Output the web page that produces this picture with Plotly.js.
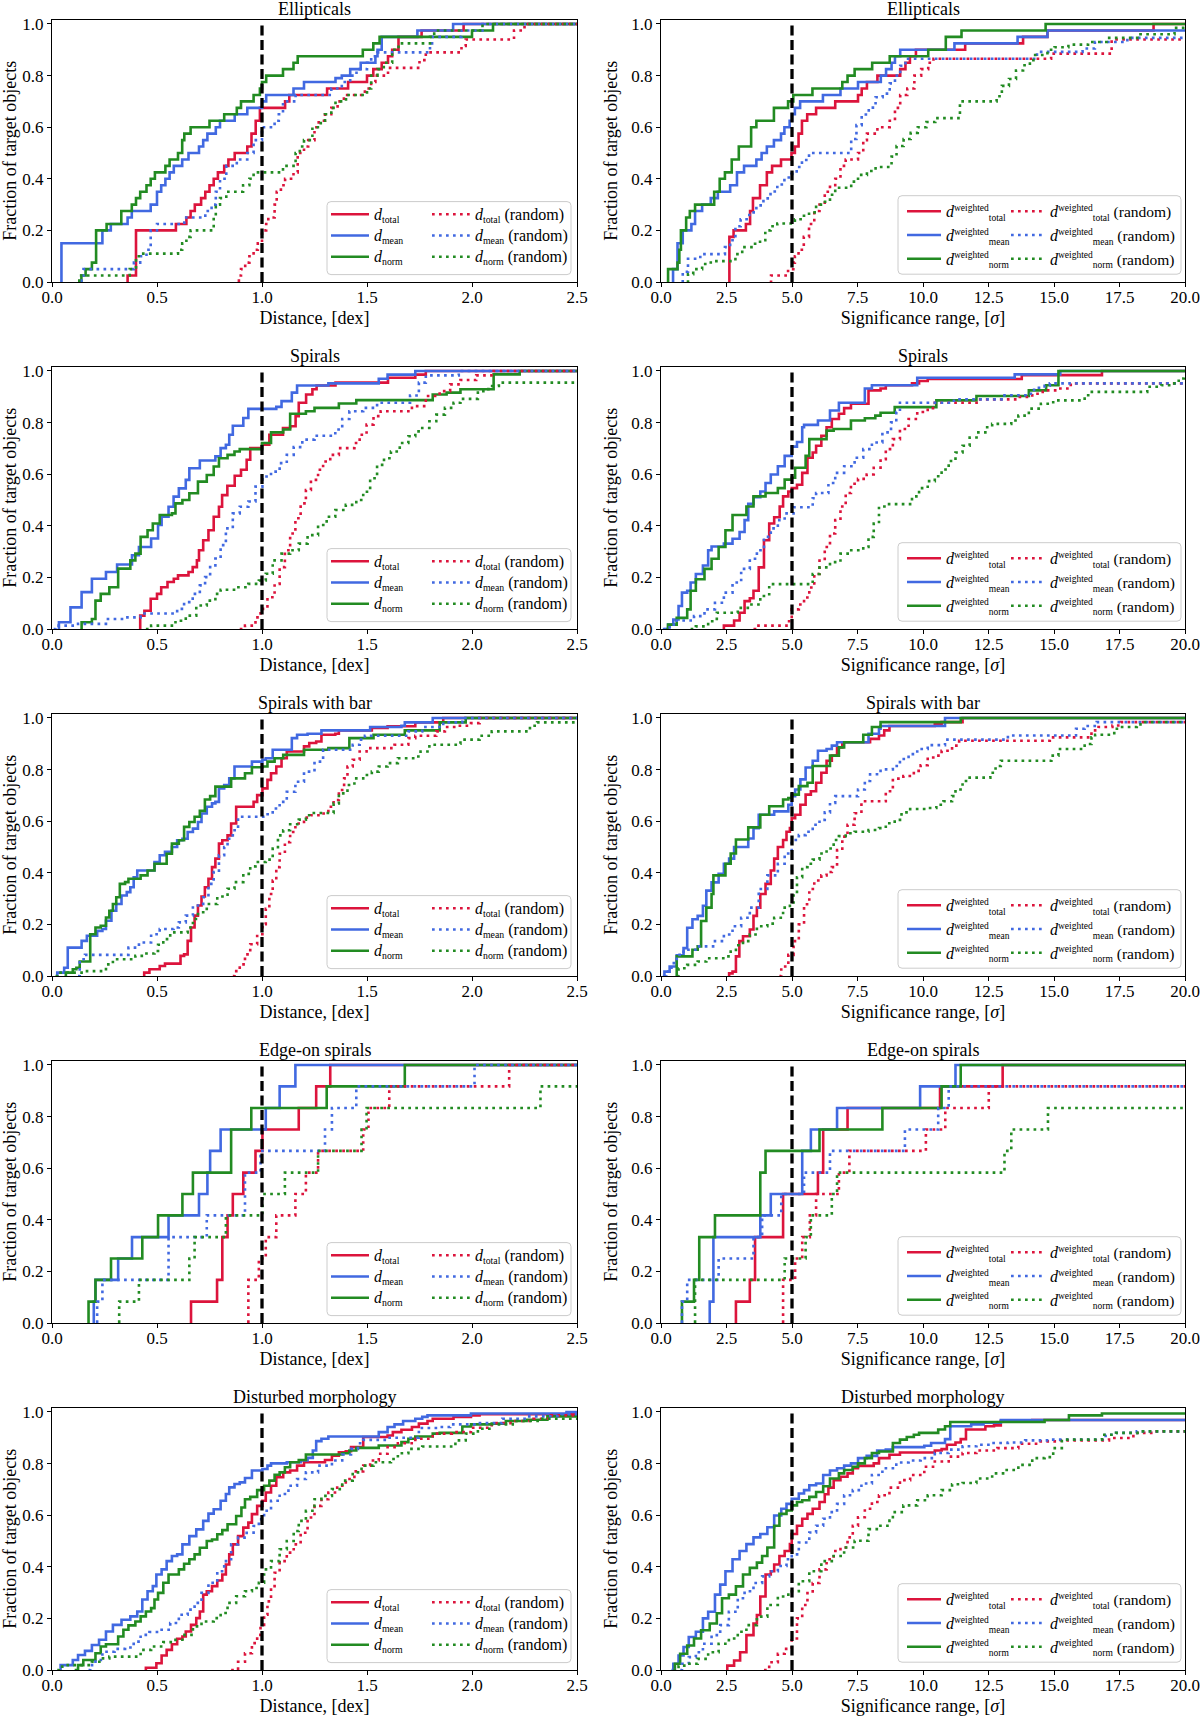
<!DOCTYPE html>
<html>
<head>
<meta charset="utf-8">
<script src="https://cdn.plot.ly/plotly-3.0.1.min.js"></script>
<style>html,body{margin:0;padding:0;background:#fff;}#chart{width:1200px;height:1716px;}</style>
</head>
<body>
<div id="chart"></div>
<script>
// ---------------- data ----------------
const categories = ["Ellipticals", "Spirals", "Spirals with bar", "Edge-on spirals", "Disturbed morphology"];
const seriesKeys = ["total", "mean", "norm"];
const xTitles = ["Distance, [dex]", "Significance range, [<i>σ</i>]"];
const yTitle = "Fraction of target objects";
const xRanges = [[0, 2.5], [0, 20]];
const xTickSteps = [0.5, 2.5];
const thresholds = [1.0, 5.0];

// Ellipticals - distance
const ell_dist_total = [[0.36,0],[0.36,0.025],[0.40,0.2],[0.59,0.225],[0.64,0.25],[0.66,0.275],[0.68,0.3],[0.71,0.325],[0.73,0.35],[0.75,0.375],[0.77,0.4],[0.79,0.425],[0.82,0.45],[0.84,0.475],[0.87,0.5],[0.93,0.525],[0.95,0.575],[0.97,0.625],[0.99,0.675],[1.11,0.7],[1.13,0.725],[1.31,0.75],[1.41,0.775],[1.5,0.8],[1.53,0.825],[1.57,0.85],[1.6,0.875],[1.62,0.9],[1.65,0.95],[1.76,0.975],[1.96,1.0]];
const ell_dist_mean = [[0.04,0],[0.045,0.15],[0.24,0.2],[0.28,0.225],[0.36,0.25],[0.38,0.275],[0.47,0.3],[0.5,0.35],[0.52,0.375],[0.54,0.4],[0.56,0.425],[0.58,0.45],[0.62,0.475],[0.65,0.5],[0.7,0.525],[0.72,0.55],[0.74,0.575],[0.78,0.6],[0.8,0.625],[0.87,0.65],[0.93,0.675],[1.0,0.7],[1.02,0.725],[1.15,0.75],[1.2,0.775],[1.35,0.79],[1.38,0.8],[1.42,0.825],[1.47,0.85],[1.54,0.875],[1.55,0.9],[1.57,0.95],[1.74,0.975],[1.91,1.0]];
const ell_dist_norm = [[0.14,0],[0.14,0.025],[0.16,0.05],[0.19,0.075],[0.21,0.2],[0.26,0.225],[0.33,0.275],[0.38,0.3],[0.4,0.325],[0.42,0.35],[0.45,0.375],[0.47,0.4],[0.49,0.425],[0.54,0.45],[0.56,0.475],[0.6,0.5],[0.62,0.55],[0.63,0.575],[0.66,0.6],[0.75,0.625],[0.82,0.65],[0.88,0.675],[0.9,0.7],[0.96,0.725],[0.99,0.75],[1.0,0.775],[1.02,0.8],[1.1,0.825],[1.15,0.85],[1.17,0.875],[1.48,0.9],[1.53,0.925],[1.56,0.95],[2.0,0.975],[2.1,1.0]];
const ell_dist_total_rnd = [[0.89,0],[0.89,0.025],[0.9,0.05],[0.92,0.075],[0.94,0.1],[0.96,0.125],[0.98,0.15],[1.0,0.2],[1.02,0.225],[1.03,0.25],[1.06,0.3],[1.07,0.35],[1.09,0.375],[1.11,0.4],[1.15,0.425],[1.17,0.5],[1.2,0.525],[1.22,0.55],[1.25,0.6],[1.27,0.625],[1.3,0.65],[1.33,0.675],[1.36,0.7],[1.39,0.725],[1.49,0.75],[1.52,0.775],[1.54,0.8],[1.6,0.83],[1.75,0.86],[1.78,0.89],[1.95,0.915],[1.97,0.94],[2.2,0.975],[2.25,1.0]];
const ell_dist_mean_rnd = [[0.14,0],[0.14,0.025],[0.15,0.05],[0.39,0.075],[0.42,0.1],[0.45,0.125],[0.47,0.2],[0.5,0.225],[0.63,0.25],[0.73,0.275],[0.76,0.3],[0.78,0.35],[0.8,0.4],[0.83,0.45],[0.88,0.475],[0.93,0.5],[0.96,0.55],[1.0,0.6],[1.06,0.625],[1.08,0.65],[1.1,0.7],[1.16,0.725],[1.33,0.75],[1.38,0.775],[1.42,0.8],[1.45,0.825],[1.5,0.85],[1.52,0.875],[1.55,0.89],[1.8,0.925],[1.81,0.95],[1.95,0.975],[2.05,1.0]];
const ell_dist_norm_rnd = [[0.13,0],[0.13,0.025],[0.37,0.05],[0.4,0.1],[0.42,0.11],[0.6,0.125],[0.62,0.15],[0.64,0.175],[0.66,0.2],[0.77,0.25],[0.78,0.3],[0.8,0.325],[0.83,0.35],[0.91,0.375],[0.94,0.4],[0.96,0.425],[1.1,0.45],[1.16,0.5],[1.18,0.525],[1.2,0.55],[1.24,0.6],[1.28,0.625],[1.3,0.65],[1.33,0.675],[1.35,0.7],[1.4,0.725],[1.5,0.75],[1.52,0.8],[1.55,0.825],[1.58,0.85],[1.62,0.9],[1.65,0.925],[1.8,0.95],[1.82,0.975],[2.05,1.0]];

// Ellipticals - significance
const ell_sig_total = [[2.61,0],[2.61,0.175],[2.77,0.2],[3.24,0.225],[3.4,0.275],[3.51,0.325],[3.78,0.375],[4.04,0.425],[4.24,0.45],[4.58,0.475],[4.98,0.5],[5.11,0.525],[5.25,0.575],[5.38,0.625],[5.58,0.65],[5.92,0.675],[6.65,0.7],[7.52,0.725],[7.66,0.75],[7.86,0.775],[8.26,0.8],[9.13,0.825],[9.33,0.85],[9.5,0.875],[9.73,0.9],[11.61,0.925],[13.82,0.95],[14.75,0.975],[18.8,1.0]];
const ell_sig_mean = [[0.43,0],[0.46,0.05],[0.63,0.15],[0.83,0.2],[1.16,0.225],[1.3,0.275],[1.57,0.3],[1.9,0.325],[2.17,0.35],[2.64,0.375],[2.9,0.425],[3.17,0.45],[3.64,0.475],[3.84,0.5],[4.04,0.525],[4.31,0.55],[4.58,0.575],[4.71,0.6],[4.91,0.625],[5.0,0.65],[5.11,0.675],[5.31,0.7],[6.18,0.725],[6.85,0.75],[7.52,0.775],[8.39,0.8],[8.59,0.825],[8.8,0.85],[8.93,0.875],[9.13,0.9],[11.2,0.925],[13.61,0.95],[14.75,0.975]];
const ell_sig_norm = [[0.27,0],[0.27,0.05],[0.63,0.075],[0.7,0.125],[0.76,0.2],[0.96,0.25],[1.1,0.275],[1.3,0.3],[2.03,0.35],[2.24,0.4],[2.44,0.425],[2.7,0.475],[2.97,0.525],[3.44,0.6],[3.64,0.625],[4.31,0.675],[4.85,0.7],[5.05,0.725],[5.78,0.75],[6.92,0.775],[7.12,0.8],[7.39,0.825],[8.06,0.85],[8.73,0.875],[10.2,0.9],[10.87,0.95],[11.47,0.975],[14.68,1.0]];
const ell_sig_total_rnd = [[4.15,0],[4.2,0.025],[4.85,0.05],[5.05,0.075],[5.11,0.1],[5.25,0.125],[5.45,0.175],[5.65,0.225],[5.85,0.275],[6.05,0.3],[6.25,0.35],[6.45,0.375],[6.65,0.4],[6.85,0.45],[7.05,0.475],[7.52,0.5],[7.72,0.55],[7.86,0.575],[8.26,0.6],[8.73,0.625],[8.93,0.675],[9.13,0.725],[9.4,0.75],[9.67,0.8],[9.93,0.825],[10.2,0.85],[10.4,0.865],[14.89,0.885],[17.2,0.94]];
const ell_sig_mean_rnd = [[0.8,0],[0.83,0.04],[1.03,0.09],[1.5,0.108],[2.44,0.135],[2.64,0.162],[2.84,0.216],[3.04,0.243],[3.37,0.27],[3.64,0.297],[3.91,0.324],[4.18,0.351],[4.44,0.378],[4.71,0.405],[4.98,0.419],[5.18,0.446],[5.38,0.473],[5.65,0.5],[7.26,0.554],[7.46,0.608],[7.66,0.649],[7.93,0.676],[8.19,0.716],[8.46,0.73],[8.73,0.77],[8.93,0.8],[9.13,0.838],[9.33,0.865],[14.35,0.892],[16.09,0.905],[16.56,0.93],[17.8,0.946]];
const ell_sig_norm_rnd = [[0.99,0],[1.03,0.03],[1.23,0.05],[1.57,0.07],[1.9,0.081],[2.84,0.108],[3.1,0.135],[3.51,0.148],[3.78,0.162],[3.98,0.2],[4.18,0.216],[4.44,0.227],[5.11,0.243],[5.38,0.257],[5.65,0.27],[5.92,0.3],[6.18,0.311],[6.45,0.338],[6.65,0.365],[7.26,0.389],[7.52,0.415],[7.86,0.43],[8.19,0.446],[8.8,0.486],[8.99,0.527],[9.26,0.554],[9.53,0.578],[9.8,0.6],[10.13,0.62],[10.47,0.635],[11.41,0.7],[12.81,0.72],[13.01,0.76],[13.28,0.787],[13.55,0.82],[13.82,0.84],[14.08,0.86],[14.28,0.88],[14.75,0.9],[15.02,0.91],[15.55,0.92],[16.3,0.93],[17.0,0.946],[18.3,0.96],[19.6,0.985]];

// Spirals - distance
const spi_dist_total = [[0.42,0],[0.42,0.052],[0.44,0.071],[0.47,0.117],[0.5,0.136],[0.52,0.162],[0.55,0.182],[0.58,0.195],[0.6,0.208],[0.65,0.221],[0.67,0.24],[0.69,0.266],[0.7,0.305],[0.72,0.344],[0.745,0.383],[0.77,0.435],[0.795,0.474],[0.81,0.519],[0.835,0.555],[0.87,0.594],[0.9,0.617],[0.927,0.656],[0.944,0.701],[1.0,0.714],[1.035,0.753],[1.1,0.779],[1.134,0.786],[1.16,0.825],[1.175,0.877],[1.21,0.909],[1.24,0.929],[1.26,0.944],[1.35,0.955],[1.6,0.974],[1.73,0.986],[1.78,1.0]];
const spi_dist_mean = [[0.033,0],[0.033,0.026],[0.088,0.084],[0.141,0.143],[0.19,0.195],[0.257,0.221],[0.31,0.25],[0.381,0.286],[0.414,0.318],[0.472,0.351],[0.505,0.403],[0.522,0.435],[0.555,0.474],[0.579,0.513],[0.604,0.545],[0.637,0.578],[0.654,0.623],[0.704,0.653],[0.778,0.669],[0.803,0.701],[0.828,0.714],[0.844,0.753],[0.861,0.788],[0.911,0.818],[0.935,0.853],[1.068,0.861],[1.093,0.883],[1.142,0.916],[1.167,0.944],[1.316,0.952],[1.556,0.97],[1.598,0.986],[1.73,1.0]];
const spi_dist_norm = [[0.141,0],[0.141,0.026],[0.19,0.039],[0.207,0.11],[0.232,0.136],[0.273,0.162],[0.315,0.234],[0.373,0.266],[0.397,0.292],[0.422,0.357],[0.455,0.383],[0.48,0.409],[0.513,0.442],[0.571,0.448],[0.588,0.487],[0.621,0.5],[0.654,0.526],[0.695,0.571],[0.737,0.597],[0.77,0.63],[0.795,0.662],[0.836,0.675],[0.869,0.688],[0.894,0.697],[1.0,0.721],[1.043,0.762],[1.101,0.773],[1.134,0.834],[1.209,0.844],[1.25,0.857],[1.366,0.874],[1.449,0.887],[1.813,0.909],[1.879,0.916],[1.945,0.929],[2.103,0.987],[2.227,1.0]];
const spi_dist_total_rnd = [[0.894,0],[0.919,0.013],[0.969,0.045],[0.993,0.078],[1.026,0.123],[1.06,0.175],[1.084,0.24],[1.109,0.305],[1.134,0.37],[1.159,0.429],[1.184,0.487],[1.209,0.539],[1.233,0.578],[1.267,0.617],[1.291,0.649],[1.325,0.675],[1.366,0.701],[1.44,0.721],[1.465,0.753],[1.498,0.792],[1.531,0.825],[1.565,0.844],[1.714,0.864],[1.78,0.903],[1.846,0.922],[1.896,0.948],[1.945,0.965],[2.02,0.983],[2.103,1.0]];
const spi_dist_mean_rnd = [[0.008,0],[0.017,0.013],[0.124,0.02],[0.257,0.039],[0.34,0.045],[0.422,0.06],[0.596,0.078],[0.629,0.104],[0.67,0.136],[0.704,0.169],[0.729,0.201],[0.753,0.24],[0.778,0.273],[0.803,0.325],[0.828,0.39],[0.861,0.448],[0.894,0.474],[0.935,0.494],[0.969,0.552],[1.002,0.591],[1.043,0.61],[1.084,0.643],[1.118,0.675],[1.151,0.705],[1.192,0.734],[1.25,0.749],[1.349,0.773],[1.382,0.814],[1.416,0.844],[1.482,0.857],[1.548,0.877],[1.705,0.905],[1.747,0.955],[1.78,0.983],[1.937,1.0]];
const spi_dist_norm_rnd = [[0.447,0],[0.472,0.013],[0.588,0.032],[0.637,0.052],[0.687,0.091],[0.737,0.11],[0.778,0.136],[0.803,0.152],[0.877,0.162],[0.935,0.175],[0.985,0.188],[1.018,0.214],[1.051,0.266],[1.093,0.292],[1.134,0.305],[1.175,0.331],[1.217,0.364],[1.267,0.403],[1.308,0.435],[1.349,0.461],[1.399,0.481],[1.449,0.5],[1.482,0.532],[1.515,0.584],[1.548,0.636],[1.581,0.662],[1.614,0.688],[1.656,0.721],[1.697,0.747],[1.73,0.766],[1.763,0.779],[1.797,0.805],[1.83,0.831],[1.871,0.857],[1.912,0.877],[1.945,0.892],[2.028,0.922],[2.078,0.942],[2.128,0.955]];

// Spirals - significance
const spi_sig_total = [[2.4,0],[2.4,0.013],[2.79,0.033],[3.0,0.063],[3.19,0.108],[3.39,0.119],[3.53,0.148],[3.73,0.239],[3.93,0.344],[4.13,0.409],[4.32,0.433],[4.53,0.475],[4.66,0.514],[4.86,0.533],[4.99,0.546],[5.19,0.559],[5.39,0.605],[5.59,0.664],[5.79,0.684],[5.92,0.71],[6.12,0.749],[6.32,0.782],[6.52,0.814],[6.79,0.834],[6.99,0.856],[7.25,0.873],[7.92,0.925],[8.38,0.932],[8.58,0.945],[9.58,0.952],[9.85,0.961],[10.18,0.969],[13.77,0.984],[16.83,1.0]];
const spi_sig_mean = [[0.13,0],[0.27,0.017],[0.47,0.037],[0.67,0.089],[0.8,0.141],[1.0,0.148],[1.13,0.18],[1.33,0.213],[1.6,0.246],[1.8,0.305],[1.93,0.32],[2.4,0.331],[2.73,0.35],[3.0,0.376],[3.19,0.422],[3.33,0.485],[3.53,0.511],[3.79,0.533],[3.99,0.566],[4.19,0.599],[4.46,0.631],[4.72,0.671],[4.99,0.707],[5.19,0.725],[5.39,0.782],[5.46,0.791],[5.99,0.808],[6.45,0.847],[6.79,0.877],[7.78,0.932],[8.05,0.945],[9.78,0.974],[13.5,0.987],[15.24,1.0]];
const spi_sig_norm = [[0.2,0],[0.27,0.017],[0.6,0.043],[1.0,0.076],[1.13,0.148],[1.33,0.193],[1.66,0.233],[1.93,0.272],[2.2,0.318],[2.46,0.383],[2.73,0.442],[3.26,0.475],[3.53,0.514],[3.99,0.527],[4.46,0.546],[4.72,0.579],[4.99,0.586],[5.12,0.625],[5.52,0.671],[5.66,0.736],[6.32,0.769],[6.59,0.775],[7.25,0.808],[7.78,0.817],[8.18,0.827],[8.38,0.838],[8.92,0.86],[10.51,0.886],[12.04,0.903],[14.04,0.925],[14.7,0.945],[15.17,1.0]];
const spi_sig_total_rnd = [[3.53,0],[3.59,0.013],[4.79,0.03],[4.99,0.076],[5.26,0.095],[5.46,0.122],[5.66,0.161],[5.85,0.213],[6.05,0.265],[6.25,0.318],[6.45,0.37],[6.65,0.422],[6.85,0.475],[7.05,0.527],[7.25,0.563],[7.52,0.582],[7.85,0.599],[8.12,0.625],[8.38,0.658],[8.58,0.697],[8.85,0.736],[9.12,0.775],[9.45,0.814],[9.78,0.841],[10.18,0.856],[10.45,0.877],[12.18,0.89],[13.64,0.899],[14.17,0.912],[14.57,0.925],[15.24,0.932],[15.64,0.952]];
const spi_sig_mean_rnd = [[0.07,0],[0.33,0.017],[0.6,0.033],[1.26,0.05],[1.66,0.076],[2.06,0.102],[2.4,0.141],[2.73,0.18],[3.06,0.233],[3.39,0.272],[3.66,0.305],[3.93,0.357],[4.19,0.39],[4.46,0.422],[4.72,0.448],[5.06,0.472],[5.79,0.507],[5.92,0.527],[6.39,0.566],[6.65,0.605],[6.99,0.631],[7.39,0.664],[7.72,0.697],[8.05,0.723],[8.45,0.762],[8.78,0.801],[8.98,0.841],[9.12,0.877],[11.18,0.89],[13.11,0.906],[14.04,0.912],[14.24,0.935],[14.64,0.943],[14.84,0.952]];
const spi_sig_norm_rnd = [[1.13,0],[1.33,0.01],[1.8,0.03],[2.13,0.063],[2.93,0.082],[3.39,0.095],[3.79,0.128],[4.13,0.174],[5.79,0.213],[6.05,0.239],[6.45,0.259],[6.85,0.292],[7.19,0.305],[7.72,0.318],[7.92,0.357],[8.12,0.409],[8.32,0.475],[8.65,0.484],[9.58,0.514],[9.85,0.546],[10.18,0.573],[10.45,0.592],[10.71,0.618],[10.98,0.651],[11.24,0.684],[11.51,0.71],[11.78,0.742],[12.11,0.762],[12.38,0.782],[12.64,0.795],[13.37,0.808],[13.64,0.827],[14.04,0.854],[14.5,0.873],[14.97,0.886],[16.17,0.906],[16.37,0.919],[18.56,0.939],[19.1,0.945],[19.49,0.952],[19.76,0.971],[19.95,0.985]];

// Spirals with bar - distance
const bar_dist_total = [[0.439,0],[0.439,0.013],[0.464,0.026],[0.513,0.039],[0.538,0.048],[0.612,0.078],[0.629,0.084],[0.646,0.136],[0.662,0.188],[0.679,0.234],[0.695,0.273],[0.712,0.308],[0.728,0.344],[0.745,0.377],[0.762,0.422],[0.778,0.455],[0.795,0.513],[0.811,0.526],[0.836,0.545],[0.853,0.591],[0.877,0.656],[0.96,0.675],[0.977,0.701],[1.002,0.727],[1.026,0.76],[1.043,0.786],[1.068,0.812],[1.093,0.844],[1.118,0.87],[1.2,0.89],[1.225,0.903],[1.258,0.909],[1.283,0.935],[1.349,0.939],[1.366,0.952],[1.523,0.961],[1.598,0.968],[1.73,0.983],[1.863,1.0]];
const bar_dist_mean = [[0.025,0],[0.025,0.013],[0.058,0.032],[0.075,0.11],[0.141,0.136],[0.166,0.156],[0.215,0.175],[0.24,0.182],[0.257,0.214],[0.283,0.253],[0.306,0.279],[0.331,0.312],[0.356,0.325],[0.373,0.344],[0.389,0.383],[0.406,0.409],[0.488,0.442],[0.513,0.468],[0.538,0.481],[0.571,0.5],[0.596,0.526],[0.621,0.532],[0.646,0.558],[0.671,0.571],[0.695,0.597],[0.712,0.63],[0.737,0.656],[0.762,0.669],[0.778,0.675],[0.795,0.727],[0.82,0.74],[0.844,0.766],[0.869,0.812],[0.952,0.831],[1.002,0.838],[1.018,0.844],[1.051,0.877],[1.142,0.922],[1.167,0.935],[1.217,0.939],[1.283,0.952],[1.515,0.965],[1.664,0.97],[1.68,0.983],[1.813,1.0]];
const bar_dist_norm = [[0.066,0],[0.066,0.013],[0.099,0.026],[0.116,0.032],[0.132,0.056],[0.182,0.162],[0.207,0.188],[0.232,0.195],[0.257,0.227],[0.273,0.253],[0.29,0.279],[0.306,0.305],[0.323,0.357],[0.348,0.364],[0.364,0.377],[0.422,0.39],[0.455,0.409],[0.488,0.435],[0.546,0.474],[0.571,0.513],[0.604,0.526],[0.629,0.578],[0.654,0.597],[0.679,0.617],[0.704,0.64],[0.728,0.684],[0.753,0.697],[0.778,0.734],[0.853,0.766],[0.919,0.786],[0.952,0.809],[1.002,0.812],[1.026,0.831],[1.06,0.844],[1.101,0.857],[1.2,0.877],[1.316,0.883],[1.416,0.922],[1.531,0.935],[1.68,0.952],[1.846,0.983],[1.97,1.0]];
const bar_dist_total_rnd = [[0.861,0],[0.869,0.019],[0.894,0.045],[0.919,0.084],[0.944,0.123],[0.977,0.162],[1.002,0.201],[1.018,0.26],[1.035,0.318],[1.051,0.37],[1.068,0.422],[1.084,0.474],[1.109,0.519],[1.134,0.558],[1.159,0.591],[1.2,0.614],[1.233,0.623],[1.283,0.63],[1.316,0.656],[1.341,0.682],[1.366,0.721],[1.391,0.766],[1.407,0.812],[1.432,0.838],[1.465,0.87],[1.498,0.883],[1.631,0.896],[1.697,0.922],[1.73,0.931],[1.83,0.948],[1.871,0.965],[1.929,0.97],[1.995,0.98],[2.036,1.0]];
const bar_dist_mean_rnd = [[0.124,0],[0.132,0.065],[0.157,0.082],[0.364,0.11],[0.414,0.13],[0.472,0.162],[0.513,0.182],[0.579,0.188],[0.604,0.208],[0.637,0.234],[0.671,0.273],[0.72,0.305],[0.745,0.357],[0.77,0.403],[0.795,0.468],[0.82,0.5],[0.836,0.532],[0.861,0.565],[0.886,0.617],[1.018,0.627],[1.051,0.649],[1.084,0.675],[1.118,0.714],[1.159,0.753],[1.2,0.792],[1.25,0.831],[1.291,0.877],[1.432,0.896],[1.465,0.916],[1.49,0.931],[1.697,0.948],[1.763,0.965],[1.863,0.983],[1.954,1.0]];
const bar_dist_norm_rnd = [[0.017,0],[0.025,0.013],[0.141,0.019],[0.257,0.045],[0.29,0.065],[0.397,0.078],[0.439,0.087],[0.488,0.097],[0.505,0.121],[0.53,0.143],[0.563,0.169],[0.646,0.188],[0.671,0.221],[0.695,0.247],[0.737,0.279],[0.787,0.308],[0.836,0.338],[0.869,0.364],[0.911,0.396],[0.944,0.425],[0.969,0.442],[1.018,0.451],[1.051,0.494],[1.076,0.545],[1.101,0.565],[1.134,0.588],[1.175,0.606],[1.209,0.623],[1.233,0.632],[1.341,0.669],[1.366,0.708],[1.407,0.74],[1.44,0.766],[1.482,0.779],[1.523,0.792],[1.556,0.812],[1.598,0.825],[1.647,0.844],[1.73,0.851],[1.755,0.87],[1.797,0.896],[1.929,0.9],[1.945,0.916],[2.036,0.931],[2.094,0.948],[2.276,0.97],[2.31,0.983]];

// Spirals with bar - significance
const bar_sig_total = [[2.6,0],[2.6,0.01],[2.73,0.017],[2.86,0.076],[2.99,0.135],[3.13,0.154],[3.39,0.18],[3.53,0.233],[3.66,0.265],[3.79,0.318],[3.99,0.357],[4.19,0.409],[4.32,0.455],[4.46,0.5],[4.66,0.527],[4.79,0.559],[4.92,0.573],[4.99,0.612],[5.12,0.625],[5.32,0.664],[5.52,0.703],[5.72,0.716],[5.92,0.749],[6.12,0.788],[6.32,0.834],[6.52,0.854],[6.72,0.886],[6.92,0.906],[7.98,0.919],[8.32,0.932],[8.52,0.952],[8.72,0.969],[10.45,0.978],[10.71,0.984],[11.51,1.0]];
const bar_sig_mean = [[0.07,0],[0.13,0.017],[0.33,0.037],[0.6,0.08],[0.86,0.108],[1.0,0.187],[1.2,0.22],[1.4,0.233],[1.6,0.272],[1.73,0.331],[1.93,0.363],[2.2,0.396],[2.4,0.435],[2.6,0.455],[2.79,0.5],[3.33,0.533],[3.53,0.573],[3.73,0.625],[4.32,0.638],[4.86,0.664],[4.99,0.697],[5.12,0.723],[5.32,0.762],[5.52,0.808],[5.79,0.834],[5.99,0.873],[6.32,0.88],[6.52,0.893],[6.72,0.906],[7.92,0.939],[8.32,0.958],[8.38,0.969],[10.84,1.0]];
const bar_sig_norm = [[0.6,0],[0.6,0.076],[1.2,0.102],[1.4,0.115],[1.53,0.213],[1.73,0.265],[1.93,0.318],[2.0,0.39],[2.46,0.435],[2.66,0.475],[2.86,0.529],[3.33,0.576],[3.79,0.625],[4.13,0.658],[4.66,0.684],[4.86,0.69],[4.99,0.703],[5.26,0.736],[5.59,0.749],[5.79,0.814],[6.45,0.854],[6.79,0.886],[6.99,0.906],[7.72,0.935],[8.05,0.965],[8.38,0.984],[11.44,1.0]];
const bar_sig_total_rnd = [[4.52,0],[4.59,0.037],[4.86,0.082],[5.06,0.135],[5.26,0.2],[5.46,0.278],[5.66,0.337],[5.85,0.37],[6.12,0.39],[6.32,0.403],[6.52,0.422],[6.72,0.488],[6.92,0.54],[7.12,0.586],[7.39,0.631],[7.65,0.677],[8.58,0.716],[8.85,0.765],[9.25,0.775],[9.65,0.795],[9.91,0.817],[10.18,0.847],[10.45,0.854],[10.71,0.873],[11.11,0.893],[11.38,0.912],[14.84,0.925],[16.43,0.952],[16.7,0.965],[17.23,0.971],[17.56,0.984]];
const bar_sig_mean_rnd = [[0.13,0],[0.2,0.017],[0.4,0.05],[0.6,0.082],[0.86,0.102],[1.4,0.115],[2.06,0.135],[2.4,0.161],[2.73,0.193],[3.06,0.226],[3.39,0.265],[3.73,0.337],[4.06,0.39],[4.46,0.435],[4.72,0.475],[4.99,0.527],[5.26,0.546],[5.52,0.559],[5.79,0.586],[6.05,0.605],[6.25,0.634],[6.45,0.671],[6.65,0.697],[7.52,0.723],[7.78,0.756],[7.98,0.782],[8.38,0.801],[8.85,0.814],[9.12,0.841],[9.45,0.86],[9.78,0.88],[10.18,0.895],[10.84,0.916],[13.24,0.932],[15.84,0.958],[16.17,0.969],[16.63,0.984]];
const bar_sig_norm_rnd = [[0.6,0],[0.67,0.03],[1.0,0.043],[1.4,0.056],[1.73,0.069],[2.46,0.076],[2.66,0.095],[2.86,0.119],[3.13,0.135],[3.39,0.161],[3.66,0.193],[4.06,0.203],[4.32,0.226],[4.66,0.265],[4.92,0.278],[5.06,0.318],[5.19,0.383],[5.39,0.422],[5.59,0.435],[5.79,0.451],[6.05,0.475],[6.32,0.494],[6.59,0.527],[6.79,0.542],[7.05,0.553],[7.39,0.559],[7.92,0.566],[8.32,0.573],[8.58,0.592],[8.92,0.605],[9.18,0.634],[9.51,0.647],[10.18,0.651],[10.51,0.664],[10.78,0.677],[11.11,0.697],[11.24,0.723],[11.51,0.756],[11.71,0.769],[12.57,0.788],[12.77,0.814],[12.97,0.834],[14.9,0.854],[15.17,0.88],[16.17,0.899],[16.43,0.925],[16.57,0.935],[17.3,0.958],[17.5,0.965],[18.16,0.969],[18.3,0.984]];

// Edge-on spirals - distance
const edge_dist_total = [[0.662,0],[0.662,0.083],[0.786,0.167],[0.811,0.333],[0.836,0.417],[0.861,0.5],[0.911,0.583],[0.969,0.667],[1.002,0.75],[1.175,0.833],[1.258,0.917],[1.325,1.0]];
const edge_dist_mean = [[0.199,0],[0.199,0.083],[0.207,0.167],[0.315,0.25],[0.381,0.333],[0.555,0.417],[0.7,0.5],[0.74,0.583],[0.753,0.667],[0.803,0.75],[1.018,0.833],[1.084,0.917],[1.159,1.0]];
const edge_dist_norm = [[0.174,0],[0.174,0.083],[0.207,0.167],[0.281,0.25],[0.43,0.333],[0.505,0.417],[0.621,0.5],[0.671,0.583],[0.853,0.75],[0.949,0.833],[1.308,0.917],[1.68,1.0]];
const edge_dist_total_rnd = [[0.935,0],[0.935,0.167],[0.985,0.25],[1.018,0.333],[1.068,0.417],[1.159,0.5],[1.209,0.583],[1.267,0.667],[1.482,0.75],[1.507,0.833],[1.606,0.917],[2.177,1.0]];
const edge_dist_mean_rnd = [[0.215,0],[0.215,0.083],[0.24,0.167],[0.555,0.333],[0.737,0.417],[0.919,0.583],[0.993,0.667],[1.3,0.75],[1.333,0.833],[1.449,0.917],[2.012,1.0]];
const edge_dist_norm_rnd = [[0.32,0],[0.32,0.083],[0.414,0.167],[0.654,0.25],[0.679,0.333],[0.828,0.417],[1.002,0.5],[1.109,0.583],[1.267,0.667],[1.474,0.75],[1.498,0.833],[2.326,0.917]];

// Edge-on spirals - significance
const edge_sig_total = [[2.86,0],[2.86,0.083],[3.39,0.167],[3.59,0.333],[4.66,0.5],[5.99,0.583],[6.19,0.75],[7.12,0.833],[10.65,0.917],[13.04,1.0]];
const edge_sig_mean = [[1.86,0],[1.86,0.083],[2.0,0.333],[3.79,0.417],[4.19,0.5],[5.39,0.667],[5.72,0.75],[6.72,0.833],[9.89,0.917],[11.24,1.0]];
const edge_sig_norm = [[0.8,0],[0.8,0.083],[1.26,0.167],[1.46,0.333],[2.06,0.417],[3.79,0.583],[3.99,0.667],[6.05,0.75],[8.45,0.833],[10.71,0.917],[11.44,1.0]];
const edge_sig_total_rnd = [[4.66,0],[4.66,0.167],[5.12,0.25],[5.39,0.333],[5.68,0.417],[5.92,0.5],[6.79,0.583],[7.19,0.667],[10.11,0.75],[10.85,0.833],[12.51,0.917]];
const edge_sig_mean_rnd = [[0.8,0],[0.8,0.083],[1.0,0.167],[2.2,0.25],[3.53,0.333],[3.86,0.417],[4.59,0.5],[5.46,0.583],[6.45,0.667],[9.31,0.75],[10.58,0.833],[10.98,0.917]];
const edge_sig_norm_rnd = [[1.3,0],[1.3,0.167],[4.72,0.25],[5.52,0.333],[5.72,0.417],[6.52,0.5],[6.72,0.583],[13.11,0.667],[13.37,0.75],[14.77,0.833]];

// Disturbed morphology - distance
const dist_dist_total = [[0.447,0],[0.447,0.009],[0.497,0.026],[0.522,0.056],[0.546,0.078],[0.571,0.1],[0.596,0.121],[0.621,0.13],[0.637,0.149],[0.662,0.175],[0.687,0.201],[0.704,0.227],[0.72,0.292],[0.737,0.305],[0.762,0.325],[0.787,0.347],[0.811,0.37],[0.828,0.409],[0.844,0.448],[0.861,0.487],[0.886,0.519],[0.911,0.552],[0.935,0.571],[0.952,0.604],[0.977,0.636],[1.002,0.656],[1.018,0.688],[1.043,0.714],[1.068,0.747],[1.101,0.766],[1.134,0.773],[1.167,0.792],[1.2,0.805],[1.3,0.814],[1.333,0.831],[1.366,0.844],[1.399,0.848],[1.424,0.864],[1.482,0.903],[1.598,0.909],[1.623,0.922],[1.664,0.931],[1.714,0.942],[1.747,0.955],[1.788,0.965],[1.813,0.974],[1.912,0.981],[1.995,0.987],[2.036,0.991]];
const dist_dist_mean = [[0.041,0],[0.041,0.019],[0.099,0.039],[0.124,0.058],[0.157,0.074],[0.19,0.097],[0.224,0.117],[0.257,0.149],[0.29,0.175],[0.331,0.195],[0.373,0.208],[0.406,0.227],[0.43,0.273],[0.455,0.305],[0.48,0.325],[0.497,0.37],[0.522,0.39],[0.546,0.422],[0.571,0.442],[0.596,0.448],[0.621,0.487],[0.654,0.519],[0.687,0.545],[0.72,0.578],[0.745,0.606],[0.77,0.623],[0.803,0.656],[0.828,0.682],[0.844,0.708],[0.869,0.721],[0.894,0.727],[0.919,0.744],[0.952,0.773],[1.002,0.779],[1.026,0.792],[1.043,0.801],[1.118,0.805],[1.184,0.812],[1.217,0.822],[1.242,0.851],[1.258,0.887],[1.283,0.896],[1.316,0.905],[1.556,0.922],[1.598,0.942],[1.631,0.952],[1.672,0.965],[1.73,0.974],[1.763,0.981],[1.788,0.987],[1.995,0.994],[2.45,1.0]];
const dist_dist_norm = [[0.108,0],[0.124,0.019],[0.149,0.039],[0.207,0.065],[0.232,0.091],[0.257,0.1],[0.315,0.13],[0.34,0.156],[0.364,0.173],[0.397,0.188],[0.422,0.208],[0.447,0.227],[0.472,0.24],[0.488,0.273],[0.505,0.299],[0.53,0.338],[0.555,0.37],[0.604,0.39],[0.629,0.412],[0.654,0.429],[0.679,0.448],[0.704,0.474],[0.737,0.5],[0.762,0.506],[0.787,0.526],[0.811,0.542],[0.836,0.565],[0.877,0.597],[0.902,0.63],[0.919,0.662],[0.944,0.671],[0.977,0.697],[1.01,0.714],[1.035,0.734],[1.06,0.757],[1.084,0.766],[1.109,0.786],[1.134,0.805],[1.175,0.814],[1.209,0.835],[1.382,0.84],[1.416,0.851],[1.449,0.861],[1.556,0.87],[1.664,0.883],[1.697,0.896],[1.73,0.905],[1.813,0.916],[1.846,0.919],[1.954,0.944],[1.995,0.952],[2.094,0.955],[2.161,0.965],[2.26,0.97],[2.359,0.983]];
const dist_dist_total_rnd = [[0.853,0],[0.886,0.032],[0.919,0.065],[0.952,0.104],[0.977,0.136],[0.993,0.175],[1.01,0.214],[1.026,0.266],[1.043,0.325],[1.06,0.377],[1.084,0.422],[1.118,0.455],[1.151,0.487],[1.184,0.532],[1.217,0.591],[1.25,0.636],[1.283,0.662],[1.316,0.688],[1.358,0.714],[1.399,0.74],[1.44,0.77],[1.482,0.792],[1.515,0.812],[1.556,0.838],[1.598,0.864],[1.647,0.879],[1.73,0.896],[1.813,0.916],[1.904,0.922],[1.995,0.939],[2.094,0.957],[2.194,0.965],[2.293,0.974],[2.376,0.987]];
const dist_dist_mean_rnd = [[0.174,0],[0.182,0.019],[0.207,0.039],[0.24,0.071],[0.298,0.082],[0.348,0.087],[0.389,0.11],[0.422,0.136],[0.464,0.147],[0.513,0.156],[0.563,0.182],[0.604,0.214],[0.646,0.234],[0.679,0.26],[0.712,0.299],[0.745,0.338],[0.787,0.383],[0.82,0.422],[0.853,0.487],[0.886,0.513],[0.927,0.532],[0.96,0.558],[0.985,0.584],[1.01,0.617],[1.043,0.656],[1.084,0.682],[1.126,0.714],[1.167,0.74],[1.209,0.766],[1.267,0.792],[1.333,0.812],[1.382,0.835],[1.424,0.857],[1.457,0.879],[1.482,0.892],[1.598,0.9],[1.747,0.938],[1.838,0.942],[1.896,0.952],[2.012,0.957],[2.144,0.974],[2.26,0.983],[2.425,0.991]];
const dist_dist_norm_rnd = [[0.025,0],[0.033,0.013],[0.075,0.019],[0.19,0.032],[0.232,0.045],[0.273,0.052],[0.422,0.078],[0.472,0.091],[0.53,0.108],[0.588,0.117],[0.621,0.136],[0.671,0.169],[0.712,0.188],[0.77,0.201],[0.803,0.221],[0.836,0.26],[0.877,0.286],[0.919,0.305],[0.952,0.318],[0.985,0.338],[1.01,0.39],[1.043,0.422],[1.084,0.468],[1.118,0.5],[1.151,0.539],[1.175,0.578],[1.209,0.617],[1.25,0.662],[1.283,0.675],[1.333,0.701],[1.382,0.734],[1.432,0.766],[1.474,0.792],[1.531,0.805],[1.614,0.818],[1.647,0.84],[1.697,0.857],[1.763,0.866],[1.921,0.89],[1.97,0.916],[2.028,0.935],[2.094,0.952],[2.194,0.965],[2.326,0.974]];

// Disturbed morphology - significance
const dist_sig_total = [[2.53,0],[2.53,0.017],[2.79,0.037],[3.02,0.069],[3.26,0.135],[3.53,0.18],[3.66,0.213],[3.79,0.285],[3.99,0.37],[4.19,0.383],[4.32,0.409],[4.52,0.442],[4.72,0.461],[4.92,0.488],[4.99,0.527],[5.19,0.559],[5.39,0.586],[5.59,0.605],[5.79,0.625],[6.05,0.651],[6.25,0.681],[6.39,0.707],[6.59,0.736],[6.85,0.749],[7.12,0.762],[7.32,0.782],[7.52,0.791],[8.12,0.801],[8.32,0.821],[8.72,0.834],[9.12,0.843],[10.45,0.851],[10.71,0.856],[10.91,0.873],[11.24,0.882],[11.44,0.895],[11.64,0.932],[12.38,0.945],[12.71,0.948],[12.97,0.965],[14.17,0.969]];
const dist_sig_mean = [[0.4,0],[0.47,0.024],[0.67,0.056],[0.86,0.089],[1.06,0.128],[1.33,0.148],[1.6,0.2],[1.8,0.226],[2.06,0.292],[2.26,0.331],[2.46,0.383],[2.73,0.429],[3.0,0.461],[3.26,0.488],[3.53,0.514],[3.79,0.527],[4.06,0.553],[4.32,0.599],[4.59,0.625],[4.79,0.644],[4.99,0.664],[5.26,0.684],[5.46,0.697],[5.66,0.716],[5.92,0.723],[6.19,0.756],[6.45,0.773],[6.72,0.782],[6.99,0.792],[7.25,0.801],[7.52,0.821],[7.85,0.83],[8.25,0.851],[8.58,0.854],[8.85,0.864],[10.05,0.869],[10.31,0.88],[10.84,0.895],[11.04,0.945],[11.84,0.952],[12.31,0.958],[12.97,0.969]];
const dist_sig_norm = [[0.53,0],[0.53,0.024],[0.73,0.063],[1.0,0.095],[1.26,0.122],[1.53,0.154],[1.86,0.18],[2.13,0.22],[2.33,0.278],[2.59,0.292],[2.86,0.324],[3.13,0.37],[3.39,0.396],[3.66,0.416],[3.86,0.442],[4.06,0.475],[4.32,0.559],[4.52,0.605],[4.79,0.618],[4.99,0.638],[5.19,0.651],[5.39,0.658],[5.66,0.671],[5.92,0.69],[6.19,0.712],[6.45,0.742],[6.79,0.762],[6.99,0.775],[7.32,0.788],[7.52,0.801],[7.78,0.821],[8.05,0.841],[8.32,0.847],[8.85,0.88],[9.12,0.893],[9.38,0.903],[9.65,0.912],[9.85,0.919],[10.58,0.932],[10.84,0.945],[11.04,0.961],[14.64,0.969],[15.57,0.987],[16.83,0.994]];
const dist_sig_total_rnd = [[3.93,0],[4.13,0.03],[4.46,0.063],[4.72,0.082],[4.99,0.122],[5.19,0.2],[5.39,0.252],[5.59,0.298],[5.79,0.337],[6.05,0.39],[6.32,0.429],[6.59,0.461],[6.85,0.475],[7.12,0.514],[7.32,0.559],[7.52,0.592],[7.78,0.625],[8.05,0.651],[8.32,0.677],[8.72,0.707],[9.12,0.736],[9.51,0.756],[10.05,0.788],[10.45,0.808],[10.98,0.827],[11.51,0.841],[12.04,0.851],[12.84,0.86],[13.64,0.877],[14.44,0.886],[15.24,0.89],[17.1,0.899],[18.03,0.919],[18.83,0.925]];
const dist_sig_mean_rnd = [[0.47,0],[0.8,0.024],[1.06,0.05],[1.33,0.069],[1.6,0.102],[1.93,0.135],[2.26,0.174],[2.59,0.226],[2.93,0.278],[3.19,0.305],[3.53,0.337],[3.86,0.363],[4.13,0.383],[4.46,0.403],[4.79,0.429],[4.99,0.448],[5.26,0.494],[5.66,0.533],[5.92,0.559],[6.19,0.586],[6.45,0.612],[6.72,0.644],[6.99,0.677],[7.32,0.697],[7.65,0.723],[8.05,0.756],[8.45,0.782],[8.98,0.804],[9.45,0.812],[9.91,0.821],[10.45,0.841],[10.98,0.854],[11.51,0.867],[12.04,0.873],[12.57,0.88],[13.24,0.882],[13.9,0.89],[14.84,0.893],[16.97,0.912],[17.37,0.919],[18.16,0.925]];
const dist_sig_norm_rnd = [[0.47,0],[0.67,0.017],[1.0,0.024],[1.4,0.043],[1.8,0.069],[2.2,0.102],[2.59,0.122],[2.93,0.148],[3.26,0.174],[3.66,0.207],[4.06,0.252],[4.46,0.285],[4.86,0.305],[5.26,0.344],[5.66,0.383],[6.12,0.422],[6.59,0.442],[6.99,0.475],[7.39,0.501],[7.92,0.546],[8.32,0.559],[8.72,0.579],[8.85,0.612],[9.25,0.638],[9.78,0.658],[10.18,0.677],[10.71,0.697],[11.11,0.72],[11.51,0.725],[12.04,0.742],[12.64,0.762],[13.11,0.775],[13.64,0.795],[14.17,0.821],[14.64,0.825],[14.97,0.86],[15.3,0.893],[16.83,0.912],[17.37,0.919],[18.3,0.925]];

// ---------------- panel list (built from the named arrays) ----------------
const panelSeries = [
  [ell_dist_total, ell_dist_mean, ell_dist_norm, ell_dist_total_rnd, ell_dist_mean_rnd, ell_dist_norm_rnd],
  [ell_sig_total, ell_sig_mean, ell_sig_norm, ell_sig_total_rnd, ell_sig_mean_rnd, ell_sig_norm_rnd],
  [spi_dist_total, spi_dist_mean, spi_dist_norm, spi_dist_total_rnd, spi_dist_mean_rnd, spi_dist_norm_rnd],
  [spi_sig_total, spi_sig_mean, spi_sig_norm, spi_sig_total_rnd, spi_sig_mean_rnd, spi_sig_norm_rnd],
  [bar_dist_total, bar_dist_mean, bar_dist_norm, bar_dist_total_rnd, bar_dist_mean_rnd, bar_dist_norm_rnd],
  [bar_sig_total, bar_sig_mean, bar_sig_norm, bar_sig_total_rnd, bar_sig_mean_rnd, bar_sig_norm_rnd],
  [edge_dist_total, edge_dist_mean, edge_dist_norm, edge_dist_total_rnd, edge_dist_mean_rnd, edge_dist_norm_rnd],
  [edge_sig_total, edge_sig_mean, edge_sig_norm, edge_sig_total_rnd, edge_sig_mean_rnd, edge_sig_norm_rnd],
  [dist_dist_total, dist_dist_mean, dist_dist_norm, dist_dist_total_rnd, dist_dist_mean_rnd, dist_dist_norm_rnd],
  [dist_sig_total, dist_sig_mean, dist_sig_norm, dist_sig_total_rnd, dist_sig_mean_rnd, dist_sig_norm_rnd]
];

// ---------------- styling / layout ----------------
const W = 1200, H = 1716;
const FONT = "Liberation Serif, DejaVu Serif, serif";
const COLORS = ["#DC143C", "#4169E1", "#228B22"];
const COLX = [[52, 577], [661, 1185]];
const ROW_Y0 = [282, 629, 976, 1323, 1670];
const FRAME_H = 262.4;
const YMAX = 1.017;

function legendName(col, key, rnd) {
  if (col === 0) {
    return '<span style="font-size:16px"><i>d</i></span><sub>' + key + '</sub>' +
      (rnd ? '<span style="font-size:16px"> (random)</span>' : '');
  }
  return '<i>d</i><sup><span style="font-size:9.5px">weighted</span></sup><sub><span style="font-size:9.5px">' + key + '</span></sub>' +
    (rnd ? '<span style="font-size:15.5px"> (random)</span>' : '');
}

function roundRectPath(x0, y0, x1, y1, r) {
  const X0 = x0 / W, X1 = x1 / W, Yt = 1 - y0 / H, Yb = 1 - y1 / H;
  const rx = r / W, ry = r / H;
  return `M ${X0 + rx},${Yb} L ${X1 - rx},${Yb} Q ${X1},${Yb} ${X1},${Yb + ry} L ${X1},${Yt - ry} Q ${X1},${Yt} ${X1 - rx},${Yt} L ${X0 + rx},${Yt} Q ${X0},${Yt} ${X0},${Yt - ry} L ${X0},${Yb + ry} Q ${X0},${Yb} ${X0 + rx},${Yb} Z`;
}

const traces = [];
const layout = {
  width: W, height: H,
  margin: {l: 0, r: 0, t: 0, b: 0, pad: 0},
  paper_bgcolor: "#ffffff", plot_bgcolor: "#ffffff",
  font: {family: FONT, color: "#000000", size: 17},
  showlegend: true,
  annotations: [], shapes: []
};

panelSeries.forEach((series, k) => {
  const r = Math.floor(k / 2), c = k % 2;
  const n = k + 1;
  const xr = xRanges[c];
  const xa = n === 1 ? "x" : "x" + n;
  const ya = n === 1 ? "y" : "y" + n;
  const legA = k === 0 ? "legend" : "legend" + (2 * k + 1);
  const legB = "legend" + (2 * k + 2);
  const y0 = ROW_Y0[r];
  const ax0 = COLX[c][0], ax1 = COLX[c][1];

  series.forEach((pts, s) => {
    const xs = pts.map(p => p[0]);
    const ys = pts.map(p => p[1]);
    xs.push(xr[1]); ys.push(ys[ys.length - 1]);
    traces.push({
      type: "scatter", mode: "lines", x: xs, y: ys, xaxis: xa, yaxis: ya,
      line: {color: COLORS[s % 3], width: 2.6, shape: "hv", dash: s < 3 ? "solid" : "2.7px,4.3px"},
      name: legendName(c, seriesKeys[s % 3], s >= 3),
      legend: s < 3 ? legA : legB, showlegend: true, hoverinfo: "skip"
    });
  });
  traces.push({
    type: "scatter", mode: "lines", x: [thresholds[c], thresholds[c]], y: [0, 1],
    xaxis: xa, yaxis: ya, showlegend: false, hoverinfo: "skip",
    line: {color: "#000000", width: 3.3, dash: "10px,4.5px"}
  });

  const xdom = [ax0 / W, ax1 / W];
  const ydom = [1 - y0 / H, 1 - (y0 - FRAME_H) / H];
  const common = {
    showline: true, mirror: true, linecolor: "#000000", linewidth: 1,
    ticks: "outside", ticklen: 4, tickwidth: 1, tickcolor: "#000000",
    showgrid: false, zeroline: false, tickfont: {size: 17, family: FONT},
    tickformat: ".1f", fixedrange: true
  };
  layout[n === 1 ? "xaxis" : "xaxis" + n] = Object.assign({}, common, {
    domain: xdom, range: xr, tick0: 0, dtick: xTickSteps[c], anchor: ya,
    ticklabelstandoff: -4,
    title: {text: xTitles[c], font: {size: 18, family: FONT}, standoff: 4}
  });
  layout[n === 1 ? "yaxis" : "yaxis" + n] = Object.assign({}, common, {
    domain: ydom, range: [0, YMAX], tick0: 0, dtick: 0.2, anchor: xa,
    title: {text: yTitle, font: {size: 18, family: FONT}, standoff: 9}
  });

  layout.annotations.push({
    text: categories[r], xref: "paper", yref: "paper",
    x: (xdom[0] + xdom[1]) / 2, y: ydom[1], xanchor: "center", yanchor: "bottom",
    showarrow: false, font: {size: 18, family: FONT}, yshift: -1
  });

  let box, solidX, dotX, topY, lfont, iw;
  if (c === 0) {
    box = [ax0 + 275, y0 - 80.4, ax0 + 519, y0 - 7.4];
    solidX = ax0 + 274; dotX = ax0 + 375; topY = y0 - 67.7 - 15.6; lfont = 14; iw = 38;
  } else {
    box = [ax0 + 237, y0 - 86.3, ax0 + 520, y0 - 7.8];
    solidX = ax0 + 241; dotX = ax0 + 345; topY = y0 - 70.8 - 16.9; lfont = 16; iw = 34;
  }
  layout.shapes.push({
    type: "path", xref: "paper", yref: "paper", layer: "above",
    path: roundRectPath(box[0], box[1], box[2], box[3], 4),
    fillcolor: "rgba(255,255,255,0.8)", line: {color: "#cccccc", width: 1}
  });
  const legCommon = {
    xanchor: "left", yanchor: "top", bgcolor: "rgba(0,0,0,0)", borderwidth: 0,
    font: {family: FONT, size: lfont, color: "#000000"}, itemwidth: iw,
    traceorder: "normal", orientation: "v", itemclick: false, itemdoubleclick: false
  };
  layout[legA] = Object.assign({}, legCommon, {x: solidX / W, y: 1 - topY / H});
  layout[legB] = Object.assign({}, legCommon, {x: dotX / W, y: 1 - topY / H});
});

Plotly.newPlot("chart", traces, layout, {staticPlot: true, displayModeBar: false});
</script>
</body>
</html>
